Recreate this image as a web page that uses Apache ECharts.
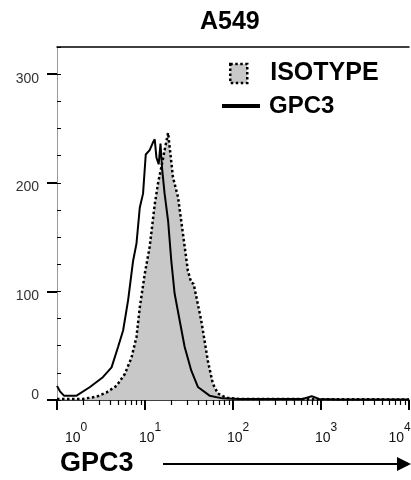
<!DOCTYPE html>
<html>
<head>
<meta charset="utf-8">
<script src="https://cdn.jsdelivr.net/npm/echarts@6/dist/echarts.min.js"></script>
<style>
  html, body { margin: 0; padding: 0; background: #fff; }
  #main { width: 411px; height: 480px; }
</style>
</head>
<body>
<div id="main"></div>
<script>
  // fluorescence intensity (x) and cell count (y)
  var isoX = [1, 1.08, 1.97, 2.82, 3.66, 4.75, 5.9, 7.02, 8.0, 8.72, 9.93, 11.3, 12.9, 14.1, 15.4, 16.7, 18.3, 19.1, 20.8, 23.7, 27.0, 30.7, 33.6, 35.7, 38.3, 43.6, 51.8, 59, 67.3, 83.7, 118.6, 10000];
  var isoY = [1, 1, 1, 3, 7, 13, 24, 39, 58, 85, 116, 141, 180, 200, 215, 230, 246, 245, 205, 187, 153, 119, 108, 107, 95, 73, 36, 15, 6, 2, 1, 0.5];

  var gpcX = [1, 1.08, 1.2, 1.67, 2.37, 3.32, 4.17, 4.95, 5.64, 6.43, 7.32, 8.0, 8.72, 9.5, 10.2, 11.3, 12.3, 12.9, 13.5, 14.3, 15.0, 15.6, 16.7, 18.3, 19.9, 21.7, 24.8, 28.2, 33.6, 39.9, 54.2, 76, 118, 316, 620, 784, 950, 1585, 10000];
  var gpcY = [13, 8, 4, 4, 12, 21, 30, 49, 64, 92, 128, 144, 177, 190, 226, 230, 237, 240, 223, 217, 236, 214, 190, 165, 128, 98, 73, 49, 27, 12, 4, 1.5, 1, 1, 1, 3.5, 1, 0.5, 0.5];

  var decades = [0, 1, 2, 3, 4];          // 10^0 .. 10^4
  var yMajor = [0, 100, 200, 300];

  var font = 'Liberation Sans, Arial, sans-serif';

  function toPairs(xs, ys) {
    var out = [];
    for (var i = 0; i < xs.length; i++) {
      out.push([Math.log10(xs[i]), ys[i]]);
    }
    return out;
  }

  // log minor ticks 2..9 in every decade
  var minorX = [];
  for (var d = 0; d < decades.length - 1; d++) {
    for (var k = 2; k <= 9; k++) {
      minorX.push(Math.log10(k * Math.pow(10, decades[d])));
    }
  }

  var chart = echarts.init(document.getElementById('main'));

  var option = {
    animation: false,
    textStyle: { fontFamily: font },
    title: {
      text: 'A549',
      left: 195,
      top: 5,
      textStyle: { fontSize: 25, fontWeight: 'bold', color: '#000', fontFamily: font }
    },
    legend: [
      {
        left: 224, top: 56,
        itemWidth: 17, itemHeight: 19, itemGap: 0,
        textStyle: { fontSize: 25, fontWeight: 'bold', color: '#000', padding: [0, 0, 0, 18] },
        data: [{
          name: 'ISOTYPE', icon: 'rect',
          itemStyle: { color: '#c8c8c8', borderColor: '#000', borderWidth: 2.5, borderType: [2.5, 2.5] }
        }]
      },
      {
        left: 217, top: 89,
        itemWidth: 38, itemHeight: 4, itemGap: 0,
        textStyle: { fontSize: 24, fontWeight: 'bold', color: '#000', padding: [0, 0, 0, 4] },
        data: [{ name: 'GPC3', icon: 'rect', itemStyle: { color: '#000' } }]
      }
    ],
    grid: { left: 57, right: 2, top: 47, bottom: 80, containLabel: false, outerBoundsMode: 'none' },
    xAxis: [
      {
        type: 'value', min: 0, max: 4, interval: 1,
        axisLine: { lineStyle: { color: '#000', width: 1.5 } },
        axisTick: { length: 10, lineStyle: { color: '#000', width: 2 } },
        splitLine: { show: false },
        axisLabel: {
          margin: 22,
          color: '#111',
          formatter: function (v) {
            var b = 'b', s = 's';
            if (v === 0) { b = 'b0'; }
            if (v === 4) { s = 's4'; }
            return '{' + b + '|10}{' + s + '|' + v + '}';
          },
          rich: {
            b: { fontSize: 14, fontFamily: font, color: '#111', padding: [9, 0, 0, 10], verticalAlign: 'bottom' },
            b0: { fontSize: 14, fontFamily: font, color: '#111', padding: [9, 0, 0, 38], verticalAlign: 'bottom' },
            s: { fontSize: 12, fontFamily: font, color: '#111', lineHeight: 12, verticalAlign: 'top' },
            s4: { fontSize: 12, fontFamily: font, color: '#111', lineHeight: 12, verticalAlign: 'top', padding: [0, 29, 0, 0] }
          }
        }
      },
      {
        type: 'value', min: 0, max: 4, position: 'bottom',
        axisLine: { show: false },
        axisTick: { customValues: minorX, length: 5, lineStyle: { color: '#000', width: 1.2 } },
        axisLabel: { show: false },
        splitLine: { show: false }
      },
      {
        type: 'value', min: 0, max: 4, position: 'top',
        axisLine: { lineStyle: { color: '#000', width: 1.5 } },
        axisTick: { show: false },
        axisLabel: { show: false },
        splitLine: { show: false }
      }
    ],
    yAxis: [
      {
        type: 'value', min: 0, max: 325,
        axisLine: { show: true, lineStyle: { color: '#999', width: 1 } },
        axisTick: { show: true, customValues: yMajor, length: 10, lineStyle: { color: '#000', width: 2 } },
        splitLine: { show: false },
        axisLabel: {
          customValues: yMajor,
          margin: 18,
          formatter: function (v) {
            return v === 0 ? '{z|' + v + '}' : '{n|' + v + '}';
          },
          rich: {
            n: { fontSize: 14, fontFamily: font, color: '#333', padding: [9, 0, 0, 0] },
            z: { fontSize: 14, fontFamily: font, color: '#333', padding: [0, 0, 9, 0] }
          }
        }
      },
      {
        type: 'value', min: 0, max: 325, interval: 25,
        axisLine: { show: false },
        axisTick: { show: true, length: 4, lineStyle: { color: '#000', width: 1 } },
        axisLabel: { show: false },
        splitLine: { show: false }
      }
    ],
    series: [
      {
        name: 'ISOTYPE',
        type: 'line',
        data: toPairs(isoX, isoY),
        symbol: 'none',
        z: 2,
        lineStyle: { color: '#000', width: 2.5, type: [2.5, 2.5] },
        itemStyle: { color: '#c8c8c8' },
        areaStyle: { color: '#c8c8c8', opacity: 1 }
      },
      {
        name: 'GPC3',
        type: 'line',
        data: toPairs(gpcX, gpcY),
        symbol: 'none',
        z: 3,
        lineStyle: { color: '#000', width: 2 },
        itemStyle: { color: '#000' }
      }
    ],
    graphic: [
      {
        type: 'text', left: 60, top: 450,
        style: { text: 'GPC3', font: 'bold 27px ' + font, fill: '#000' }
      },
      {
        type: 'line',
        shape: { x1: 163, y1: 464, x2: 400, y2: 464 },
        style: { stroke: '#000', lineWidth: 2 }
      },
      {
        type: 'polygon',
        shape: { points: [[397, 457], [411, 464], [397, 471]] },
        style: { fill: '#000' }
      }
    ]
  };

  chart.setOption(option);
</script>
</body>
</html>
